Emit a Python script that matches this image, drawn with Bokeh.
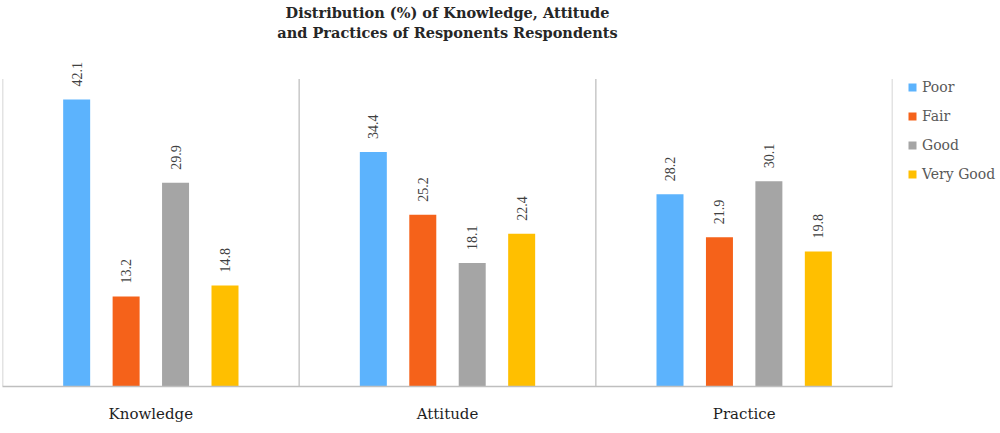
from bokeh.plotting import figure
from bokeh.models import ColumnDataSource, FactorRange, Range1d, Legend, LegendItem, LabelSet, Label
from bokeh.transform import dodge
from bokeh.embed import file_html
from bokeh.resources import INLINE

categories = ["Knowledge", "Attitude", "Practice"]
levels = ["Poor", "Fair", "Good", "Very Good"]
poor = [42.1, 34.4, 28.2]
fair = [13.2, 25.2, 21.9]
good = [29.9, 18.1, 30.1]
very_good = [14.8, 22.4, 19.8]
colors = ["#5cb3fd", "#f5621a", "#a5a5a5", "#ffbf00"]
title_lines = ["Distribution (%) of Knowledge, Attitude",
               "and Practices of Responents Respondents"]

series = [poor, fair, good, very_good]
keys = ["poor", "fair", "good", "vgood"]
offsets = [-0.25, -0.0833, 0.0833, 0.25]
axis_top = 45.1
FRAME_H = 386
PX_PER_UNIT = 6.817
y_max = FRAME_H / PX_PER_UNIT

data = dict(cat=categories)
for k, s in zip(keys, series):
    data[k] = s
    data[k + "_lbl"] = [f"{v:.1f}" for v in s]
src = ColumnDataSource(data)

p = figure(x_range=FactorRange(*categories, range_padding=0), y_range=Range1d(0, y_max),
           frame_width=890, frame_height=FRAME_H, title=None,
           min_border_left=2, min_border_right=100, min_border_top=0, min_border_bottom=39,
           output_backend="svg", toolbar_location=None, tools="")

# title lines, centred above the bars
for line, sy in zip(title_lines, [12, 32]):
    p.add_layout(Label(x=len(categories) / 2, y=(FRAME_H - sy) / PX_PER_UNIT, text=line,
                       text_align="center", text_baseline="middle",
                       text_font="DejaVu Serif", text_font_style="bold",
                       text_font_size="14.5px", text_color="#262626"))

p.outline_line_color = None
p.xgrid.grid_line_color = None
p.ygrid.grid_line_color = None
p.yaxis.visible = False
p.xaxis.axis_line_color = "#bfbfbf"
p.xaxis.axis_line_width = 1.5
p.xaxis.major_tick_line_color = None
p.xaxis.minor_tick_line_color = None
p.xaxis.major_label_text_font = "DejaVu Serif"
p.xaxis.major_label_text_font_size = "15px"
p.xaxis.major_label_text_color = "#1e1e1e"
p.xaxis.major_label_standoff = 12

bounds = list(range(len(categories) + 1))
p.segment(x0=bounds, x1=bounds, y0=[0] * len(bounds), y1=[axis_top] * len(bounds),
          line_color="#c8c8c8", line_width=1.5)

items = []
for k, off, c, lvl in zip(keys, offsets, colors, levels):
    r = p.vbar(x=dodge("cat", off, range=p.x_range), top=k, width=0.091, source=src,
               fill_color=c, line_color=None)
    items.append(LegendItem(label=lvl, renderers=[r]))
    lbl = LabelSet(x=dodge("cat", off, range=p.x_range), y=k, text=k + "_lbl", source=src,
                   angle=90, angle_units="deg", text_align="left", text_baseline="middle",
                   y_offset=13, text_font="Liberation Sans", text_font_size="14px",
                   text_color="#404040")
    p.add_layout(lbl)

legend = Legend(items=items, location=(15, FRAME_H - 78 - 104), orientation="vertical",
                glyph_width=10, glyph_height=10, label_height=16, spacing=13,
                label_standoff=5, padding=0, margin=0,
                border_line_color=None, background_fill_alpha=0,
                label_text_font="DejaVu Serif", label_text_font_size="14px",
                label_text_color="#595959")
p.add_layout(legend, "right")

open("out.html", "w").write(file_html(p, INLINE))
